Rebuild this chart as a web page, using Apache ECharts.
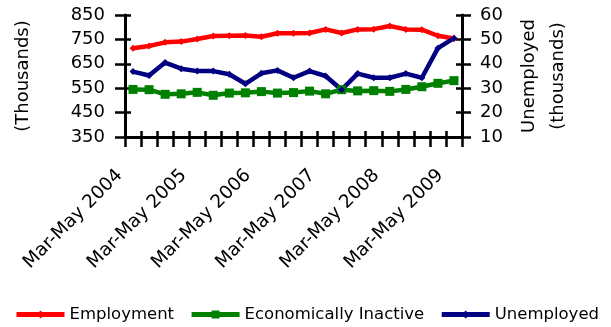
<!DOCTYPE html>
<html>
<head>
<meta charset="utf-8">
<script src="https://cdn.jsdelivr.net/npm/echarts@6/dist/echarts.min.js"></script>
<style>
html,body{margin:0;padding:0;background:#fff;}
#c{width:611px;height:327px;}
</style>
</head>
<body>
<div id="c"></div>
<script>
var categories = [
  "Mar-May 2004","Jun-Aug 2004","Sep-Nov 2004","Dec-Feb 2005",
  "Mar-May 2005","Jun-Aug 2005","Sep-Nov 2005","Dec-Feb 2006",
  "Mar-May 2006","Jun-Aug 2006","Sep-Nov 2006","Dec-Feb 2007",
  "Mar-May 2007","Jun-Aug 2007","Sep-Nov 2007","Dec-Feb 2008",
  "Mar-May 2008","Jun-Aug 2008","Sep-Nov 2008","Dec-Feb 2009",
  "Mar-May 2009"
];
var employment = [714, 723, 738, 741, 752, 764, 765, 766, 761, 775, 775, 776, 791, 776, 791, 792, 805, 791, 790, 765, 754];
var inactive = [545, 544, 525, 527, 533, 521, 530, 531, 536, 530, 532, 538, 527, 544, 539, 540, 537, 545, 556, 570, 581];
var unemployed = [36.8, 35.2, 40.5, 38.0, 37.0, 37.0, 35.7, 31.8, 36.1, 37.3, 34.3, 37.0, 35.0, 29.4, 36.0, 34.3, 34.3, 36.0, 34.3, 46.4, 50.5];
var leftAxis = {min: 350, max: 850, interval: 100};
var rightAxis = {min: 10, max: 60, interval: 10};

var FONT = "DejaVu Sans";
var chart = echarts.init(document.getElementById('c'), null, {renderer: 'canvas'});
var axisLineStyle = {color: '#000', width: 3};
var tickStyle = {color: '#000', width: 2.5};

chart.setOption({
  animation: false,
  backgroundColor: '#fff',
  textStyle: {fontFamily: FONT},
  grid: {left: 125, right: 149, top: 15, bottom: 190, containLabel: false},
  legend: {
    left: 14, top: 306, padding: 0,
    itemWidth: 48, itemHeight: 10, itemGap: 15,
    lineStyle: {width: 5},
    textStyle: {fontFamily: FONT, fontSize: 16.5, color: '#000'},
    data: ['Employment', 'Economically Inactive', 'Unemployed']
  },
  xAxis: [
    {
      type: 'category', data: categories, boundaryGap: true, position: 'bottom',
      axisLine: {show: true, lineStyle: axisLineStyle},
      axisTick: {show: true, interval: 0, length: 10, lineStyle: tickStyle},
      axisLabel: {
        interval: 3, rotate: 45, margin: 22, padding: [0, 19, 0, 0],
        fontFamily: FONT, fontSize: 18.5, color: '#000'
      },
      splitLine: {show: false}
    },
    {
      type: 'category', data: categories, boundaryGap: true, position: 'bottom',
      axisLine: {show: false},
      axisTick: {show: true, inside: true, interval: 0, length: 6, lineStyle: tickStyle},
      axisLabel: {show: false},
      splitLine: {show: false}
    }
  ],
  yAxis: [
    {
      type: 'value', position: 'left', min: leftAxis.min, max: leftAxis.max, interval: leftAxis.interval,
      name: '(Thousands)', nameLocation: 'middle', nameGap: 92, nameRotate: 90,
      nameTextStyle: {fontFamily: FONT, fontSize: 18, color: '#000', lineHeight: 20},
      axisLine: {show: true, lineStyle: axisLineStyle},
      axisTick: {show: true, length: 10, lineStyle: tickStyle},
      axisLabel: {margin: 20, fontFamily: FONT, fontSize: 18, color: '#000'},
      splitLine: {show: false}
    },
    {
      type: 'value', position: 'right', min: rightAxis.min, max: rightAxis.max, interval: rightAxis.interval,
      name: 'Unemployed\n(thousands)', nameLocation: 'middle', nameGap: 53, nameRotate: 90,
      nameTextStyle: {fontFamily: FONT, fontSize: 18, color: '#000', lineHeight: 29},
      axisLine: {show: true, lineStyle: axisLineStyle},
      axisTick: {show: true, length: 9, lineStyle: tickStyle},
      axisLabel: {margin: 18, fontFamily: FONT, fontSize: 18, color: '#000'},
      splitLine: {show: false}
    },
    {
      type: 'value', position: 'left', min: leftAxis.min, max: leftAxis.max, interval: leftAxis.interval,
      axisLine: {show: false},
      axisTick: {show: true, inside: true, length: 6, lineStyle: tickStyle},
      axisLabel: {show: false},
      splitLine: {show: false}
    },
    {
      type: 'value', position: 'right', min: rightAxis.min, max: rightAxis.max, interval: rightAxis.interval,
      axisLine: {show: false},
      axisTick: {show: true, inside: true, length: 6, lineStyle: tickStyle},
      axisLabel: {show: false},
      splitLine: {show: false}
    }
  ],
  series: [
    {
      name: 'Employment', type: 'line', xAxisIndex: 0, yAxisIndex: 0, data: employment,
      symbol: 'diamond', symbolSize: 7, showAllSymbol: true,
      lineStyle: {color: '#FF0000', width: 4.5},
      itemStyle: {color: '#FF0000'}
    },
    {
      name: 'Economically Inactive', type: 'line', xAxisIndex: 0, yAxisIndex: 0, data: inactive,
      symbol: 'rect', symbolSize: 9, showAllSymbol: true,
      lineStyle: {color: '#008000', width: 4.5},
      itemStyle: {color: '#008000'}
    },
    {
      name: 'Unemployed', type: 'line', xAxisIndex: 0, yAxisIndex: 1, data: unemployed,
      symbol: 'diamond', symbolSize: 7, showAllSymbol: true,
      lineStyle: {color: '#000080', width: 4.5},
      itemStyle: {color: '#000080'}
    }
  ]
});
</script>
</body>
</html>
